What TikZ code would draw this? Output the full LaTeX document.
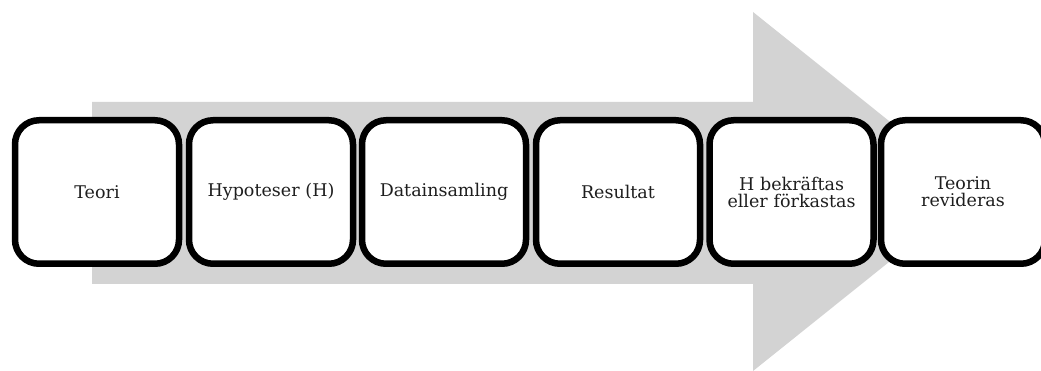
\documentclass[tikz,border=0pt]{standalone}
\usepackage{fontspec}
\setmainfont{DejaVu Serif}
\usetikzlibrary{shadows}
\definecolor{arrowgray}{RGB}{211,211,211}
\definecolor{txt}{RGB}{30,30,30}
\begin{document}
\begin{tikzpicture}[x=1pt,y=-1pt,
  stepbox/.style={draw=black, line width=6.5pt, fill=white, rounded corners=24pt,
    minimum width=164pt, minimum height=143.5pt, inner sep=0pt,
    text width=160pt, align=center, font=\fontsize{17.5}{17}\selectfont, text=txt,
    drop shadow={shadow xshift=1pt, shadow yshift=-3pt, opacity=0.25, fill=black}}]
\useasboundingbox (0,0) rectangle (1041,371);
\fill[white] (0,0) rectangle (1041,371);
% big arrow
\fill[arrowgray] (92,102) -- (753,102) -- (753,12) -- (977,191.5) -- (753,371) -- (753,284) -- (92,284) -- cycle;
\node[stepbox] (b1) at (97,192) {Teori};
\node[stepbox] (b2) at (271,192) {Hypoteser (H)};
\node[stepbox] (b3) at (444,192) {Datainsamling};
\node[stepbox] (b4) at (618,192) {Resultat};
\node[stepbox] (b5) at (791.5,192) {H bekräftas\\eller förkastas};
\node[stepbox] (b6) at (963,192) {Teorin\\revideras};
\end{tikzpicture}
\end{document}
